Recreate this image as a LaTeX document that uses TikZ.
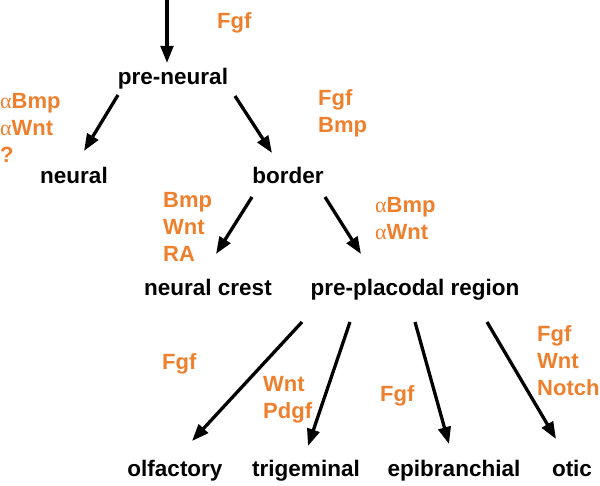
\documentclass[tikz,border=0pt]{standalone}
\usepackage{fontspec}
\setmainfont{Liberation Sans}
\newfontfamily\grk{Liberation Serif}
\newcommand{\alp}{{\grk\mdseries α}}
\usetikzlibrary{arrows.meta}
\definecolor{sigc}{RGB}{238,128,45}
\begin{document}
\begin{tikzpicture}[x=1pt,y=-1pt,
  stage/.style={font=\fontsize{22.5}{27}\selectfont\bfseries, inner sep=0pt, anchor=base},
  sig/.style={font=\fontsize{22}{27}\selectfont\bfseries, text=sigc, inner sep=0pt, anchor=north west, align=left},
  arr/.style={line width=3.3pt, -{Triangle[length=17pt,width=12.5pt]}}]
\useasboundingbox (0,0) rectangle (600,486);
% stages
\node[stage] (pre) at (173,85) {pre-neural};
\node[stage] (neu) at (74,184) {neural};
\node[stage] (bor) at (288,184) {border};
\node[stage] (nc) at (208,296) {neural crest};
\node[stage] (ppr) at (415,296) {pre-placodal region};
\node[stage] (olf) at (175,476) {olfactory};
\node[stage] (tri) at (306,476) {trigeminal};
\node[stage] (epi) at (454,476) {epibranchial};
\node[stage] (oti) at (572,476) {otic};
% signals
\node[sig] (s0) at (217,12) {Fgf};
\node[sig] (s1) at (0,93) {\alp Bmp\\\alp Wnt\\?};
\node[sig] (s2) at (318,89) {Fgf\\Bmp};
\node[sig] (s3) at (163,192) {Bmp\\Wnt\\RA};
\node[sig] (s4) at (375,197) {\alp Bmp\\\alp Wnt};
\node[sig] (s5) at (162,353) {Fgf};
\node[sig] (s6) at (263,376) {Wnt\\Pdgf};
\node[sig] (s7) at (380,385) {Fgf};
\node[sig] (s8) at (537,325) {Fgf\\Wnt\\Notch};
% arrow end points
\coordinate (top) at (167,0);
\coordinate (preIn) at (167,63);
\coordinate (preL) at (118,95);
\coordinate (preR) at (235,96);
\coordinate (neuIn) at (84,151);
\coordinate (borIn) at (272,153);
\coordinate (borL) at (252,197);
\coordinate (borR) at (325,197);
\coordinate (ncIn) at (216,254);
\coordinate (pprIn) at (361,254);
\coordinate (pA) at (302,322);
\coordinate (pB) at (350,322);
\coordinate (pC) at (415,322);
\coordinate (pD) at (487,322);
\coordinate (olfIn) at (192,441);
\coordinate (triIn) at (308,446);
\coordinate (epiIn) at (449,444);
\coordinate (otiIn) at (556,439);
% arrows
\draw[arr] (top) -- (preIn);
\draw[arr] (preL) -- (neuIn);
\draw[arr] (preR) -- (borIn);
\draw[arr] (borL) -- (ncIn);
\draw[arr] (borR) -- (pprIn);
\draw[arr] (pA) -- (olfIn);
\draw[arr] (pB) -- (triIn);
\draw[arr] (pC) -- (epiIn);
\draw[arr] (pD) -- (otiIn);
\end{tikzpicture}
\end{document}
